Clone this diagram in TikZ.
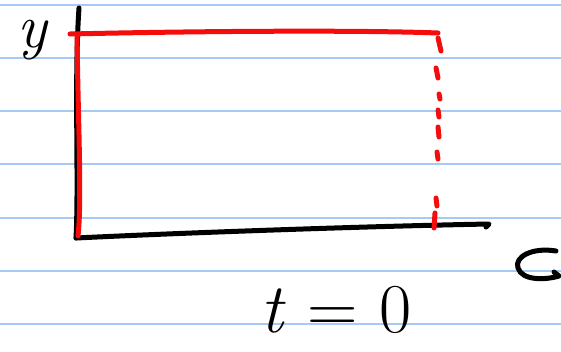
\documentclass[tikz,border=0pt]{standalone}
\usetikzlibrary{calc}
\definecolor{ruleblue}{RGB}{165,202,245}
\definecolor{penred}{RGB}{245,12,12}
\tikzset{
  ruled/.style={draw=ruleblue, line width=1.6pt},
  pen/.style={line width=5pt, line cap=round, line join=round},
  redpen/.style={pen, draw=penred},
  hand/.style={inner sep=0pt, font=\fontsize{70}{74}\selectfont}
}
\begin{document}
\begin{tikzpicture}[x=1pt,y=-1pt]
\useasboundingbox (0,0) rectangle (561,351);
% ruled paper
\foreach \r in {5,58,111,164,218,271,324}
  \draw[ruled] (0,\r) -- (561,\r);
% axes
\coordinate (ytop) at (79,8);
\coordinate (O) at (76,238);
\coordinate (xend) at (489,224);
\coordinate (xhook) at (486,227);
\draw[pen] (ytop) .. controls (74,80) and (79,180) .. (O);
\draw[pen] (O) .. controls (200,232) and (380,226) .. (xend) -- (xhook);
% red rectangle
\coordinate (A) at (70,34);
\coordinate (B) at (438,33);
\coordinate (C) at (78,236);
\draw[redpen] (A) .. controls (200,31) and (360,30) .. (B);
\draw[redpen] (77,35) .. controls (78,120) and (82,200) .. (C);
\foreach \ya/\xa/\yb/\xb in {38/438/51/441, 68/436/78/438, 94/439/99/440,
    110/438/117/439, 127/438/137/439, 152/437/159/438, 198/436/206/437, 213/435/228/434}
  \draw[redpen] (\xa,\ya) -- (\xb,\yb);
% labels
\node[hand, font=\fontsize{62}{66}\selectfont] (ylab) at (32,40) {\itshape y};
\node[hand, anchor=base] (tlab) at (336,332) {\textit{t} = 0};
% cut-off label at right
\coordinate (xl) at (556,251);
\draw[pen] (xl) .. controls (532,247) and (514,257) .. (518,268)
  .. controls (522,281) and (546,280) .. (559,276) -- (554,272);
\end{tikzpicture}
\end{document}
